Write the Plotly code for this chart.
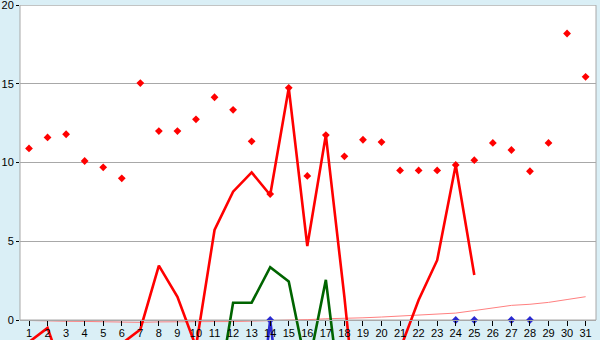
import plotly.graph_objects as go

days = list(range(1, 32))
tick_labels = [str(d) for d in days]

# red point series
red_points = [10.9, 11.6, 11.8, 10.1, 9.7, 9.0, 15.05, 12.0, 12.0, 12.75,
              14.15, 13.35, 11.35, 8.0, 14.75, 9.15, 11.75, 10.4, 11.45, 11.3,
              9.5, 9.5, 9.5, 9.85, 10.15, 11.25, 10.8, 9.45, 11.25, 18.2, 15.45]

# thick red line series
red_line = [-1.4, -0.5, -3.9, -5.0, -4.0, -1.5, -0.6, 3.45, 1.48, -1.7,
            5.72, 8.15, 9.38, 7.94, 14.74, 4.7, 11.75, 1.45, -10.0, -10.0,
            -1.86, 1.27, 3.8, 9.85, 2.86, None, None, None, None, None, None]

# green line series
green_line = [None, None, None, None, None, None, None, None, None, None,
              -6.0, 1.1, 1.1, 3.35, 2.45, -3.3, 2.55, -7.0, None, None,
              None, None, None, None, None, None, None, None, None, None, None]

# blue line series
blue_line = [None, None, None, None, None, None, None, None, None, None,
             None, None, -10.0, 0.0, -10.0, None, None, None, None, None,
             None, None, None, None, None, None, None, None, None, None, None]

# blue point series
blue_points = [None, None, None, None, None, None, None, None, None, None,
               None, None, None, 0.0, None, None, None, None, None, None,
               None, None, None, 0.0, 0.0, None, 0.0, 0.0, None, None, None]

# thin pink line series
pink_line = [-0.03, -0.07, -0.08, -0.09, -0.12, -0.15, -0.15, -0.12, -0.1, -0.1,
             -0.1, -0.1, -0.08, -0.02, 0.0, 0.02, 0.08, 0.1, 0.14, 0.19,
             0.25, 0.31, 0.37, 0.44, 0.6, 0.75, 0.93, 1.0, 1.12, 1.3, 1.48]

y_ticks = [0, 5, 10, 15, 20]

BG = "#daeff6"
GRID = "#a8a8a8"

fig = go.Figure()

fig.add_trace(go.Scatter(x=days, y=pink_line, mode="lines",
                         line=dict(color="#ff8080", width=1), hoverinfo="skip"))
fig.add_trace(go.Scatter(x=days, y=red_line, mode="lines",
                         line=dict(color="#ff0000", width=2.6), connectgaps=False))
fig.add_trace(go.Scatter(x=days, y=green_line, mode="lines",
                         line=dict(color="#006400", width=2.6), connectgaps=False))
fig.add_trace(go.Scatter(x=days, y=blue_line, mode="lines",
                         line=dict(color="#2a2ad0", width=2.6), connectgaps=False))
fig.add_trace(go.Scatter(x=days, y=red_points, mode="markers",
                         marker=dict(symbol="diamond", size=6, color="#ff0000",
                                     line=dict(width=0))))
fig.add_trace(go.Scatter(x=days, y=blue_points, mode="markers",
                         marker=dict(symbol="diamond", size=6, color="#2a2ad0",
                                     line=dict(width=0))))

fig.add_shape(type="rect", xref="paper", yref="y", x0=0, x1=1, y0=0, y1=20,
              fillcolor="white", line=dict(color=GRID, width=1), layer="below")

font = dict(family="Liberation Sans", size=11, color="black")

fig.update_layout(
    template="none",
    width=600, height=340,
    margin=dict(l=20, r=4, t=5, b=0, pad=0),
    paper_bgcolor=BG,
    plot_bgcolor="rgba(0,0,0,0)",
    showlegend=False,
    xaxis=dict(
        range=[0.515, 31.56],
        tickmode="array", tickvals=days, ticktext=tick_labels,
        anchor="free", position=20 / 335,
        showline=True, linecolor=GRID, linewidth=1,
        ticks="outside", ticklen=5, tickcolor="black", tickwidth=1,
        ticklabelstandoff=-2, ticklabeloverflow="allow",
        showgrid=False, zeroline=False, tickfont=font, automargin=False,
    ),
    yaxis=dict(
        range=[-20 / 15.75, 20.01],
        tickmode="array", tickvals=y_ticks, ticktext=[str(v) for v in y_ticks],
        showline=False, ticks="outside", ticklen=3, tickcolor="black",
        ticklabeloverflow="allow",
        showgrid=True, gridcolor=GRID, gridwidth=1, zeroline=False,
        tickfont=font, automargin=False,
    ),
)

fig.write_html("out.html")
